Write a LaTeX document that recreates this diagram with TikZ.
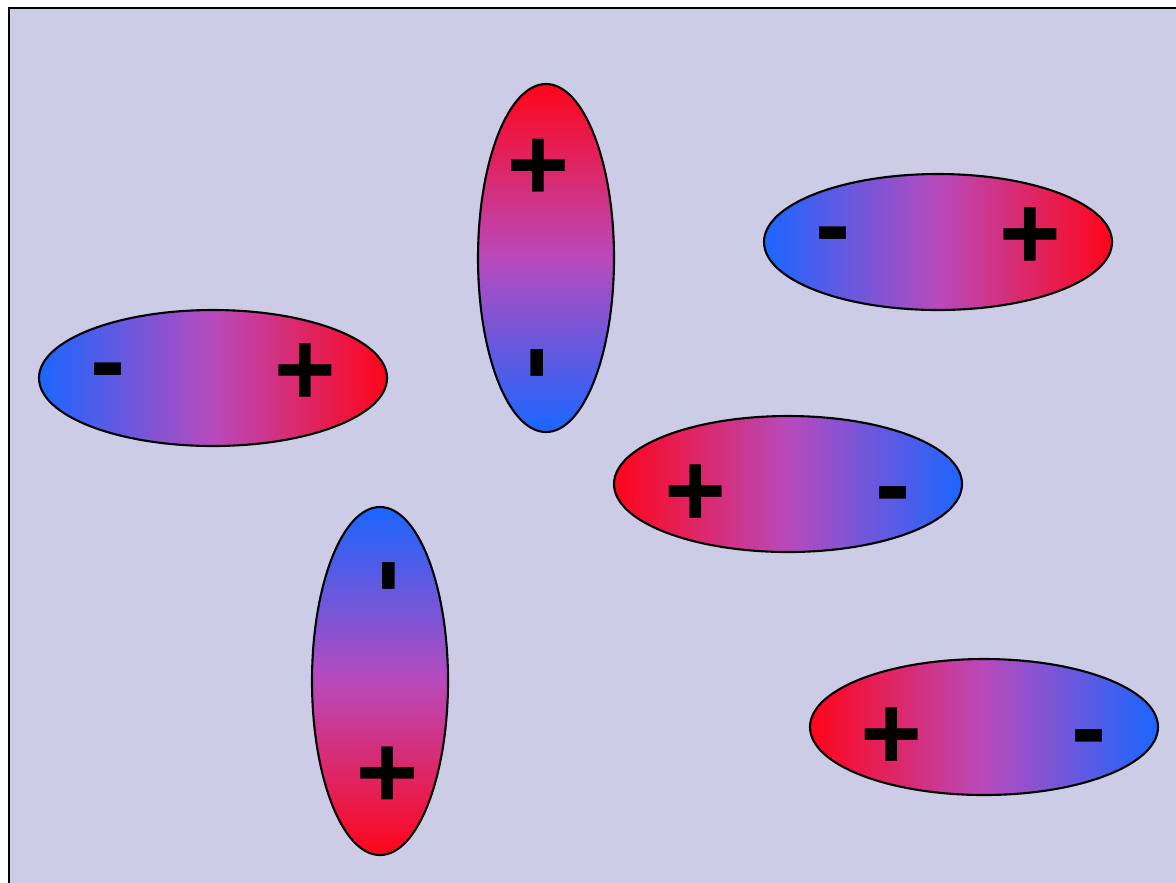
\documentclass[tikz,border=0pt]{standalone}
\usepackage{fontspec}
\newfontfamily\signfont{Liberation Sans}
\definecolor{backlav}{RGB}{204,204,230}
\definecolor{dipblue}{RGB}{26,102,255}
\definecolor{dipmid}{RGB}{184,74,188}
\definecolor{dipred}{RGB}{255,5,25}
\tikzset{
  sign/.style={font=\signfont\bfseries\fontsize{30}{36}\selectfont, inner sep=0pt, transform shape},
  dipole/.style={left color=dipblue, right color=dipred, middle color=dipmid, draw=black, line width=0.6pt}
}
\begin{document}
\begin{tikzpicture}
            \useasboundingbox (0,0) rectangle (11.76,8.82);
            \begin{scope}
                \clip (0,0) rectangle (11.76,8.82);
                \draw[fill=backlav, line width=0.8pt] (0.09,-0.5) rectangle (12.5,8.74);
            \end{scope}
            % x / y / angle / name of each dipole
            \foreach \cx/\cy/\ang/\nm [evaluate=\ang as \shang using int(\ang+90)] in
                    {2.13/5.04/0/left, 5.46/6.24/90/top, 9.38/6.40/0/upright,
                     7.88/3.98/180/middle, 9.84/1.55/180/lowright, 3.80/2.01/-90/bottom} {
                \begin{scope}[shift={(\cx,\cy)}, rotate=\ang]
                    \shade[dipole, shading angle=\shang] (0,0) ellipse (1.74 and 0.68);
                    \node[sign] (\nm-minus) at (-1.05,-0.02) {-};
                    \node[sign] (\nm-plus) at (0.92,0.03) {+};
                \end{scope}
            }
        \end{tikzpicture}
\end{document}
